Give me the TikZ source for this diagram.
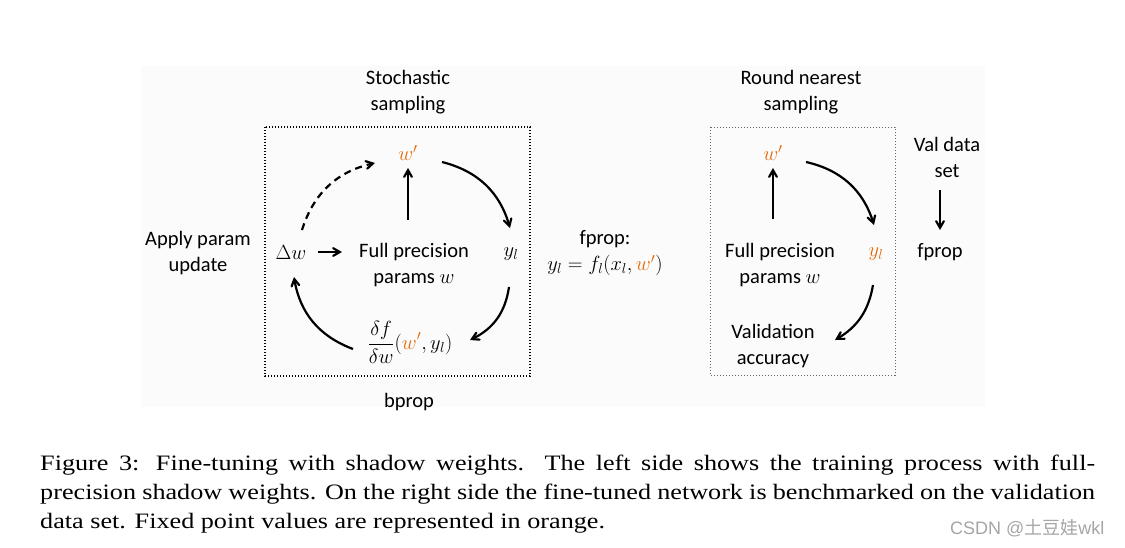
\RequirePackage{fix-cm}
\documentclass[tikz,border=0pt]{standalone}
\usepackage{fontspec}
\setmainfont{Carlito}
\newfontfamily\capfont[FakeStretch=1.19]{Liberation Serif}
\newfontfamily\wmfont{Liberation Sans}
\newfontfamily\cjkfont{Noto Sans CJK SC}
\usetikzlibrary{arrows,positioning,calc}
\definecolor{fixorange}{RGB}{228,108,10}
\definecolor{wmgray}{RGB}{165,165,165}
\definecolor{panelbg}{RGB}{251,251,251}

\begin{document}
\begin{tikzpicture}[x=1pt, y=1pt, >=angle 60, font=\fontsize{20.5}{26}\selectfont]
\tikzstyle{lbl}=[align=center, inner sep=0pt]
\tikzstyle{fixval}=[text=fixorange, inner sep=0pt]
\tikzstyle{arr}=[->, line width=2.2pt]
\tikzstyle{dotbox}=[line width=1.3pt, dash pattern=on 1.3pt off 1.7pt]
\useasboundingbox (0,0) rectangle (1125,-547);
\fill[panelbg] (141,-66) rectangle (985,-407);

% left: training with shadow weights
\node[lbl]    (stoch) at (408,-92)  {Stochastic\\sampling};
\draw[dotbox] (265,-127) rectangle (530,-376);
\node[fixval] (wq)    at (408,-153) {$w'$};
\node[lbl]    (fpw)   at (414,-265) {Full precision\\params $w$};
\node[lbl]    (dw)    at (291,-252) {$\Delta w$};
\node[lbl]    (yl)    at (511,-254) {$y_l$};
\node[lbl]    (grad)  at (410,-342) {$\displaystyle\frac{\delta f}{\delta w}(\textcolor{fixorange}{w'}, y_l)$};
\node[lbl]    (apply) at (198,-253) {Apply param\\update};
\node[lbl]    (bprop) at (409,-402) {bprop};
\node[lbl]    (fprop) at (605,-253) {fprop:\\$y_l = f_l(x_l, \textcolor{fixorange}{w'})$};

\draw[arr] ([shift={(0,-67)}]wq.center) -- ([shift={(0,-15)}]wq.center);
\draw[arr] ([shift={(27,0)}]dw.center) -- ([shift={(51,0)}]dw.center);
\draw[arr] ([shift={(34,-9)}]wq.center) to[bend left=30] ([shift={(-1,26)}]yl.center);
\draw[arr] ([shift={(-2,-33)}]yl.center) to[bend left=28] ([shift={(60,2)}]grad.center);
\draw[arr] ([shift={(-57,-7)}]grad.center) to[bend left=30] ([shift={(3,-25)}]dw.center);
\draw[arr, dash pattern=on 7pt off 5pt] ([shift={(11,22)}]dw.center) to[bend left=30] ([shift={(-33,-10)}]wq.center);

% right: benchmark on validation set
\node[lbl]    (round) at (801,-92)  {Round nearest\\sampling};
\draw[dotbox, line width=0.8pt, black!60] (710,-127) rectangle (895,-375);
\node[fixval] (wr)    at (773,-153) {$w'$};
\node[lbl]    (fpr)   at (780,-265) {Full precision\\params $w$};
\node[fixval] (yr)    at (876,-254) {$y_l$};
\node[lbl]    (acc)   at (773,-346) {Validation\\accuracy};
\node[lbl]    (val)   at (947,-157) {Val data\\set};
\node[lbl]    (fp)    at (940,-252) {fprop};

\draw[arr] ([shift={(0,-66)}]wr.center) -- ([shift={(0,-15)}]wr.center);
\draw[arr] ([shift={(33,-9)}]wr.center) to[bend left=30] ([shift={(-2,29)}]yr.center);
\draw[arr] ([shift={(-3,-31)}]yr.center) to[bend left=25] ([shift={(62,6)}]acc.center);
\draw[arr] ([shift={(0,-33)}]fp.center |- val.center) -- ([shift={(0,22)}]fp.center);

% caption
\node[anchor=north west, inner sep=0pt, text width=1055pt, align=justify,
      font=\capfont\fontsize{22}{29}\selectfont] (cap) at (40,-455)
  {Figure 3:  Fine-tuning with shadow weights.  The left side shows the training process with full-\linebreak
   precision shadow weights. On the right side the fine-tuned network is benchmarked on the validation\linebreak
   data set. Fixed point values are represented in orange.};
\node[anchor=base west, inner sep=0pt, text=wmgray,
      font=\wmfont\fontsize{18}{20}\selectfont] (wm) at (950,-534) {CSDN @{\cjkfont 土豆娃}wkl};
\end{tikzpicture}
\end{document}
